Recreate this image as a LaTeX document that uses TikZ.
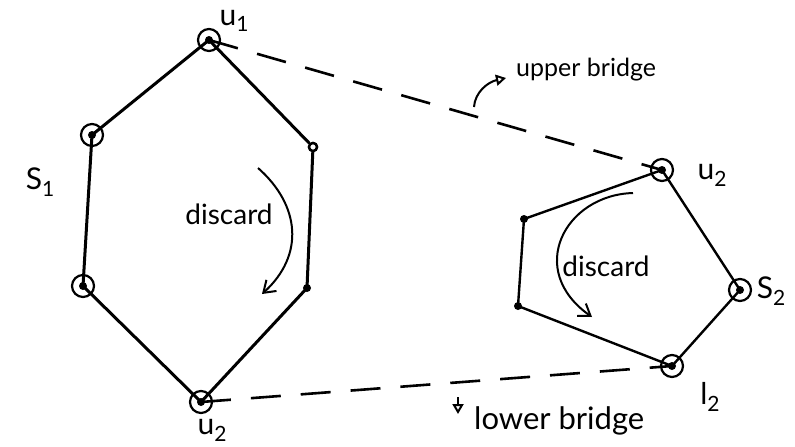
\documentclass[tikz,border=0pt]{standalone}
\usepackage{fontspec}
\setmainfont{Lato}
\usetikzlibrary{arrows.meta}
% a letter with a lowered index, set in the text font
\newcommand\idx[2]{#1\raisebox{-0.45ex}{\fontsize{21}{21}\selectfont #2}}
\begin{document}
\begin{tikzpicture}[x=1pt,y=-1pt,
  vtx/.style={circle,fill,inner sep=0pt,minimum size=8pt},
  opendot/.style={circle,draw,line width=2.4pt,fill=white,inner sep=0pt,minimum size=8pt},
  ring/.style={circle,draw,line width=2.2pt,inner sep=0pt,minimum size=22pt},
  hullL/.style={line width=3pt,line join=round},
  hullR/.style={line width=2.4pt,line join=round},
  bridge/.style={line width=2.6pt,dash pattern=on 30pt off 20pt},
  turn/.style={line width=2pt,-{Straight Barb[length=11pt,width=15pt,line width=2pt]}},
  pointer/.style={line width=2pt,-{Triangle[open,length=10pt,width=11pt,line width=2pt]}},
  lbl/.style={font=\fontsize{28}{32}\selectfont,inner sep=0pt},
  mlbl/.style={font=\fontsize{30}{34}\selectfont,inner sep=0pt}]
\useasboundingbox (0,0) rectangle (795,447);

% first hull S1
\node[vtx] (a1) at (209,40) {};
\node[vtx] (a2) at (92,135) {};
\node[vtx] (a3) at (83,286) {};
\node[vtx] (a4) at (201,402) {};
\node[vtx] (a5) at (307,288) {};
\node[opendot] (a6) at (313,147) {};
\draw[hullL] (a1.center) -- (a2.center) -- (a3.center) -- (a4.center)
  -- (a5.center) -- (a6) -- (a1.center);
\node[opendot] (a6b) at (a6) {};
\node[ring] (r1) at (a1) {};
\node[ring] (r2) at (a2) {};
\node[ring] (r3) at (a3) {};
\node[ring] (r4) at (a4) {};

% second hull S2
\node[vtx] (b1) at (662,170) {};
\node[vtx] (b2) at (524,219) {};
\node[vtx] (b3) at (518,306) {};
\node[vtx] (b4) at (672,366) {};
\node[vtx] (b5) at (740,290) {};
\draw[hullR] (b1.center) -- (b2.center) -- (b3.center) -- (b4.center)
  -- (b5.center) -- (b1.center);
\node[ring] (s1) at (b1) {};
\node[ring] (s4) at (b4) {};
\node[ring] (s5) at (b5) {};

% bridges
\draw[bridge] (a1.center) -- (b1.center);
\draw[bridge] (a4.center) -- (b4.center);

% vertex and set labels
\node[mlbl,anchor=base] (lu1) at (234,25) {\idx{u}{1}};
\node[mlbl] (lS1) at (40,182) {\idx{S}{1}};
\node[mlbl] (lu2a) at (212,430) {\idx{u}{2}};
\node[mlbl] (lu2b) at (712,175) {\idx{u}{2}};
\node[mlbl] (lS2) at (771,291) {\idx{S}{2}};
\node[mlbl] (ll2) at (710,397) {\idx{l}{2}};

% discarded chains
\node[lbl] (d1) at (229,214) {discard};
\coordinate (d1s) at (258,168);
\coordinate (d1e) at (262,294);
\draw[turn] (d1s) .. controls (300,205) and (305,255) .. (d1e);

\node[lbl] (d2) at (606,266) {discard};
\coordinate (d2s) at (633,193);
\coordinate (d2e) at (592,317);
\draw[turn] (d2s) .. controls (565,195) and (525,270) .. (d2e);

% bridge captions
\node[lbl,anchor=west,font=\fontsize{25}{29}\selectfont] (ub) at (516,70) {upper bridge};
\coordinate (ubs) at (474,107);
\coordinate (ube) at (506,78);
\draw[pointer] (ubs) .. controls (475,92) and (488,82) .. (ube);

\node[lbl,anchor=west,font=\fontsize{31}{35}\selectfont] (lb) at (474,421) {lower bridge};
\coordinate (lbs) at (458,397);
\coordinate (lbe) at (458,414);
\draw[pointer] (lbs) -- (lbe);
\end{tikzpicture}
\end{document}
